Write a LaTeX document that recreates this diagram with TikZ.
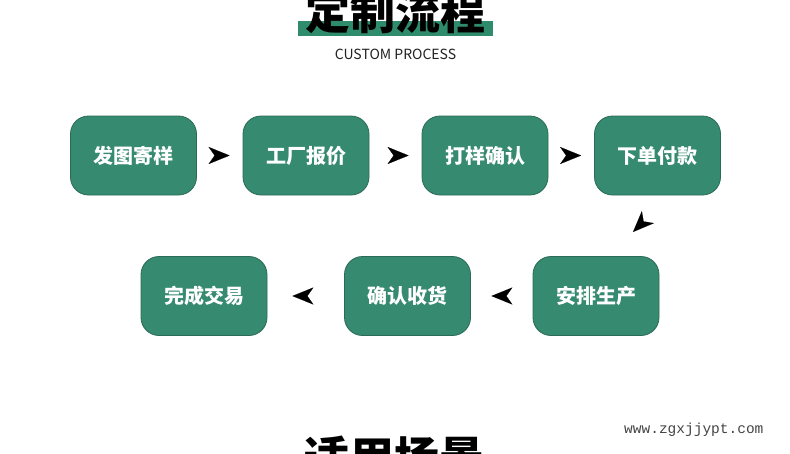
\documentclass[tikz,border=0pt]{standalone}
\usepackage{fontspec}
\newfontfamily\cjk{Noto Sans CJK SC}
\newfontfamily\wmfont{Liberation Mono}
\usetikzlibrary{arrows.meta}
\definecolor{boxgreen}{HTML}{358A6F}
\definecolor{boxedge}{HTML}{2A6B56}
\definecolor{titlegreen}{HTML}{2E8B6C}
\definecolor{subgray}{HTML}{222222}
\definecolor{wmgray}{HTML}{444444}
\begin{document}
\begin{tikzpicture}[x=1pt,y=-1pt,
  stepbox/.style={draw=boxedge, fill=boxgreen, rounded corners=18pt,
    minimum width=126pt, minimum height=79pt, inner sep=0pt, line width=0.8pt,
    text=white, font=\cjk\bfseries\fontsize{20}{24}\selectfont},
  flow/.style={draw=white, line width=0.1pt,
    -{Stealth[length=21pt,width=17pt,inset=6pt,color=black]}},
  bigtitle/.style={anchor=base, font=\cjk\bfseries\fontsize{45}{50}\selectfont, text=black, inner sep=0pt}]
\useasboundingbox (0,0) rectangle (790,453);
\fill[white] (0,0) rectangle (790,453);
% title
\fill[titlegreen] (298,21) rectangle (493,36);
\node[bigtitle] (title) at (395,29) {定制流程};
\node[font=\cjk\fontsize{14}{17}\selectfont, text=subgray, inner sep=0pt] (sub) at (395.5,54) {CUSTOM PROCESS};
% steps
\node[stepbox] (n1) at (133.5,155.5) {发图寄样};
\node[stepbox] (n2) at (306,155.5) {工厂报价};
\node[stepbox] (n3) at (485,155.5) {打样确认};
\node[stepbox] (n4) at (657.5,155.5) {下单付款};
\node[stepbox] (n5) at (596,296) {安排生产};
\node[stepbox] (n6) at (407.5,296) {确认收货};
\node[stepbox] (n7) at (204,296) {完成交易};
% arrows
\draw[flow, shorten <=11.5pt, shorten >=13pt] (n1) -- (n2);
\draw[flow, shorten <=18pt, shorten >=13pt] (n2) -- (n3);
\draw[flow, shorten <=11pt, shorten >=13pt] (n3) -- (n4);
\coordinate (d1) at (649,216);
\coordinate (d2) at (633,232);
\draw[flow] (d1) -- (d2);
\draw[flow, shorten <=20pt, shorten >=20.5pt] (n5) -- (n6);
\draw[flow, shorten <=30.5pt, shorten >=25pt] (n6) -- (n7);
% bottom
\node[bigtitle] (next) at (394,474) {适用场景};
\node[anchor=base west, font=\wmfont\fontsize{14.5}{16}\selectfont, text=wmgray, inner sep=0pt] (wm) at (624,433) {www.zgxjjypt.com};
\end{tikzpicture}
\end{document}
